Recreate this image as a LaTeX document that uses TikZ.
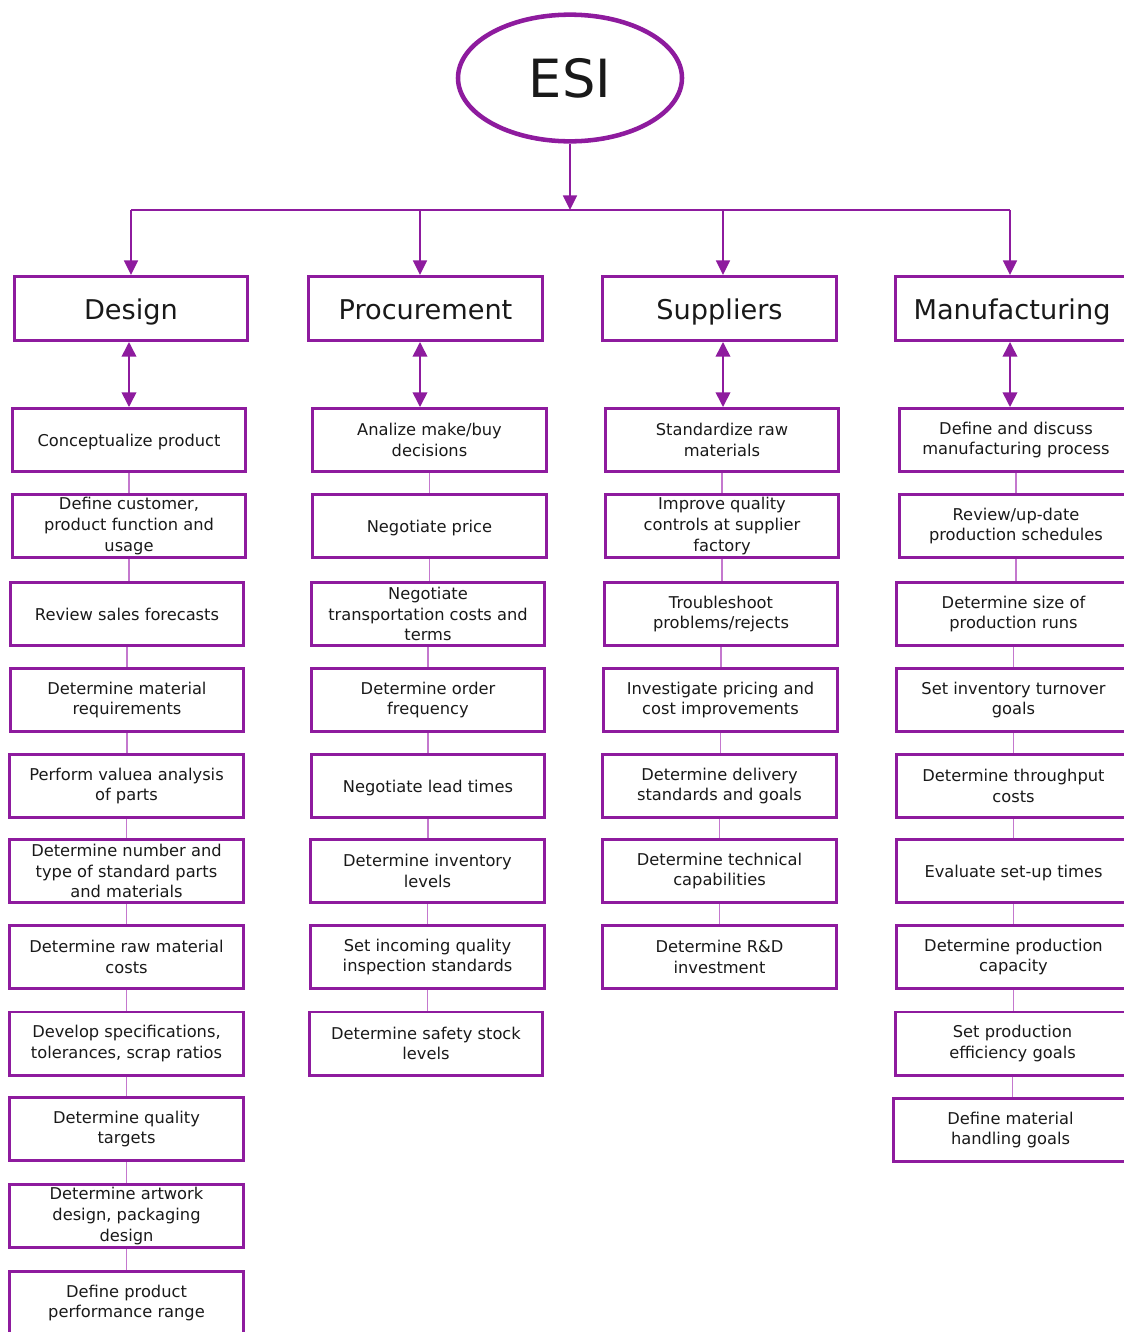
\documentclass[tikz,border=0pt]{standalone}
\usepackage{fontspec}
\setmainfont{DejaVu Sans}
\usetikzlibrary{arrows.meta,shapes.geometric}
\definecolor{esipurple}{RGB}{142,27,158}
\definecolor{esilink}{RGB}{196,120,206}
\definecolor{esitext}{RGB}{25,25,25}

\begin{document}
\begin{tikzpicture}[x=0.75pt,y=-0.75pt,
  item/.style={draw=esipurple, line width=2.2pt, minimum width=175pt,
    minimum height=47.3pt, inner sep=0pt, align=center, text=esitext,
    font=\fontsize{12.2}{15.6}\selectfont},
  oneline/.style={item, text height=10.5pt, text depth=0.8pt},
  head/.style={item, minimum height=48pt, text height=16.8pt, text depth=0pt,
    font=\fontsize{20.4}{24}\selectfont},
  flow/.style={draw=esipurple, line width=1.2pt},
  tip/.style={-{Triangle[length=11pt,width=10.5pt]}},
  bitip/.style={{Triangle[length=11pt,width=11pt]}-{Triangle[length=11pt,width=11pt]}},
  link/.style={draw=esilink, line width=1.1pt}]
\useasboundingbox (0,0) rectangle (1124,1332);
\clip (0,0) rectangle (1124,1332);

% root
\node[ellipse, draw=esipurple, line width=3.4pt, minimum width=168pt,
  minimum height=95pt, text=esitext, font=\fontsize{39.5}{44}\selectfont]
  (esi) at (570,78) {ESI};

% department headings
\node[head] (design) at (131,308.5) {Design};
\node[head] (proc)   at (425.5,308.5) {Procurement};
\node[head] (supp)   at (719.5,308.5) {Suppliers};
\node[head] (manu)   at (1012,308.5) {Manufacturing};

% distribution bus and drop points
\coordinate (busM) at (570,210);
\coordinate (busD) at (131,210);
\coordinate (busP) at (420,210);
\coordinate (busS) at (723,210);
\coordinate (busF) at (1010,210);
\draw[flow,tip] (esi.south) -- (busM);
\draw[flow] (busD) -- (busF);
\draw[flow,tip] (busD) -- (busD |- design.north);
\draw[flow,tip] (busP) -- (busP |- proc.north);
\draw[flow,tip] (busS) -- (busS |- supp.north);
\draw[flow,tip] (busF) -- (busF |- manu.north);

% Design column
\node[oneline] (d1) at (129,440)  {Conceptualize product};
\node[item] (d2)  at (129,526)    {Define customer,\\product function and\\usage};
\node[oneline] (d3) at (127,614)  {Review sales forecasts};
\node[item] (d4)  at (127,700)    {Determine material\\requirements};
\node[item] (d5)  at (126.5,786)  {Perform valuea analysis\\of parts};
\node[item] (d6)  at (126.5,871)  {Determine number and\\type of standard parts\\and materials};
\node[item] (d7)  at (126.5,957)  {Determine raw material\\costs};
\node[item] (d8)  at (126.5,1043.5) {Develop specifications,\\tolerances, scrap ratios};
\node[item] (d9)  at (126.5,1129) {Determine quality\\targets};
\node[item] (d10) at (126.5,1216) {Determine artwork\\design, packaging\\design};
\node[item] (d11) at (126.5,1303) {Define product\\performance range};

% Procurement column
\node[item] (p1) at (429.5,440)  {Analize make/buy\\decisions};
\node[oneline] (p2) at (429.5,526) {Negotiate price};
\node[item] (p3) at (428,614)    {Negotiate\\transportation costs and\\terms};
\node[item] (p4) at (428,700)    {Determine order\\frequency};
\node[oneline] (p5) at (428,786) {Negotiate lead times};
\node[item] (p6) at (427.5,871)  {Determine inventory\\levels};
\node[item] (p7) at (427.5,957)  {Set incoming quality\\inspection standards};
\node[item] (p8) at (426,1043.5) {Determine safety stock\\levels};

% Suppliers column
\node[item] (s1) at (722,440)   {Standardize raw\\materials};
\node[item] (s2) at (722,526)   {Improve quality\\controls at supplier\\factory};
\node[item] (s3) at (721,614)   {Troubleshoot\\problems/rejects};
\node[item] (s4) at (720.5,700) {Investigate pricing and\\cost improvements};
\node[item] (s5) at (719.5,786) {Determine delivery\\standards and goals};
\node[item] (s6) at (719.5,871) {Determine technical\\capabilities};
\node[item] (s7) at (719.5,957) {Determine R\&D\\investment};

% Manufacturing column
\node[item] (m1) at (1016,440)    {Define and discuss\\manufacturing process};
\node[item] (m2) at (1016,526)    {Review/up-date\\production schedules};
\node[item] (m3) at (1013.5,614)  {Determine size of\\production runs};
\node[item] (m4) at (1013.5,700)  {Set inventory turnover\\goals};
\node[item] (m5) at (1013.5,786)  {Determine throughput\\costs};
\node[oneline] (m6) at (1013.5,871) {Evaluate set-up times};
\node[item] (m7) at (1013.5,957)  {Determine production\\capacity};
\node[item] (m8) at (1012.5,1043.5) {Set production\\efficiency goals};
\node[item] (m9) at (1010.5,1130) {Define material\\handling goals};

% heading <-> first task
\coordinate (twD) at (129,342);
\coordinate (twP) at (420,342);
\coordinate (twS) at (723,342);
\coordinate (twF) at (1010,342);
\draw[flow,bitip] (twD) -- (twD |- d1.north);
\draw[flow,bitip] (twP) -- (twP |- p1.north);
\draw[flow,bitip] (twS) -- (twS |- s1.north);
\draw[flow,bitip] (twF) -- (twF |- m1.north);

% task chains
\foreach \a/\b in {d1/d2,d2/d3,d3/d4,d4/d5,d5/d6,d6/d7,d7/d8,d8/d9,d9/d10,d10/d11,
                   p1/p2,p2/p3,p3/p4,p4/p5,p5/p6,p6/p7,p7/p8,
                   s1/s2,s2/s3,s3/s4,s4/s5,s5/s6,s6/s7,
                   m1/m2,m2/m3,m3/m4,m4/m5,m5/m6,m6/m7,m7/m8,m8/m9}
  \draw[link] (\a.south) -- (\a.south |- \b.north);
\end{tikzpicture}
\end{document}
